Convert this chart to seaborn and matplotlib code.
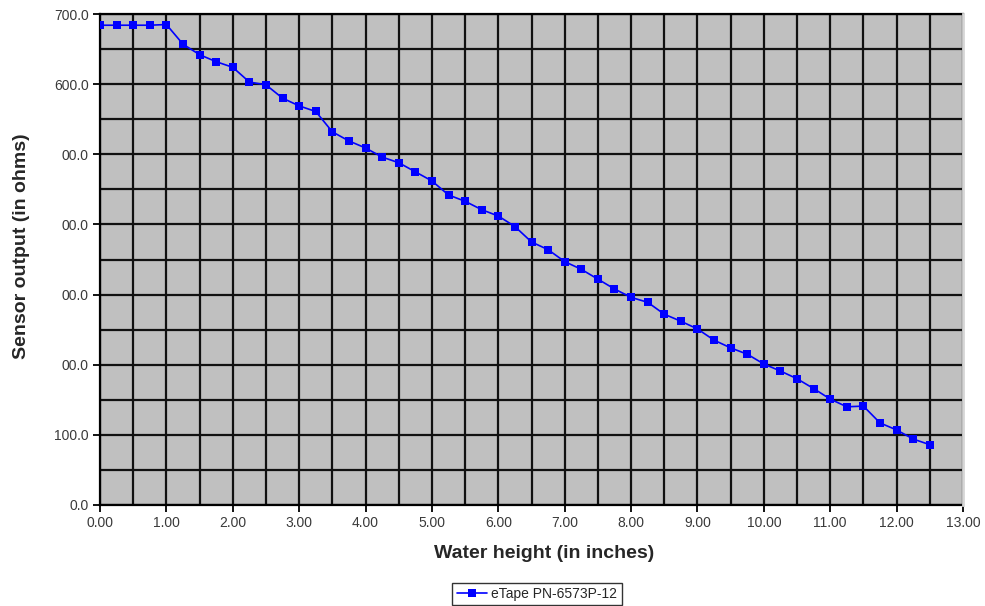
import pandas as pd
import matplotlib
matplotlib.use('Agg')
import matplotlib.pyplot as plt
from matplotlib.ticker import MultipleLocator, FixedLocator, FixedFormatter
import seaborn as sns

# water height in inches, every quarter inch
height = [0.00, 0.25, 0.50, 0.75, 1.00, 1.25, 1.50, 1.75, 2.00, 2.25, 2.50, 2.75,
          3.00, 3.25, 3.50, 3.75, 4.00, 4.25, 4.50, 4.75, 5.00, 5.25, 5.50, 5.75,
          6.00, 6.25, 6.50, 6.75, 7.00, 7.25, 7.50, 7.75, 8.00, 8.25, 8.50, 8.75,
          9.00, 9.25, 9.50, 9.75, 10.00, 10.25, 10.50, 10.75, 11.00, 11.25, 11.50,
          11.75, 12.00, 12.25, 12.50]
# sensor output in ohms
ohms = [684, 684, 684, 684, 685, 657, 642, 632, 624, 603, 599, 580,
        569, 561, 532, 519, 509, 496, 488, 475, 462, 442, 433, 421,
        412, 397, 375, 364, 347, 336, 322, 308, 296, 289, 272, 262,
        251, 235, 224, 215, 201, 191, 180, 166, 151, 140, 141,
        117, 107, 94, 86]

x_ticks = [0, 1, 2, 3, 4, 5, 6, 7, 8, 9, 10, 11, 12, 13]
x_labels = ['0.00', '1.00', '2.00', '3.00', '4.00', '5.00', '6.00', '7.00',
            '8.00', '9.00', '10.00', '11.00', '12.00', '13.00']
y_ticks = [0, 100, 200, 300, 400, 500, 600, 700]
y_labels = ['0.0', '100.0', '00.0', '00.0', '00.0', '00.0', '600.0', '700.0']

df = pd.DataFrame({'height': height, 'ohms': ohms, 'series': 'eTape PN-6573P-12'})

sns.set_style('white')
plt.rcParams['font.family'] = ['Liberation Sans', 'DejaVu Sans']

fig = plt.figure(figsize=(9.85, 6.06), dpi=100)
ax = fig.add_axes([100 / 985, 1 - 505 / 606, 863 / 985, 491 / 606])
ax.set_facecolor('#c0c0c0')

sns.lineplot(x='height', y='ohms', data=df, hue='series', palette=['#0000ff'],
             marker='s', markersize=5.5, markeredgewidth=0, linewidth=1.2,
             ax=ax, zorder=4)

ax.set_xlim(0, 13)
ax.set_ylim(0, 700)
ax.xaxis.set_major_locator(FixedLocator(x_ticks))
ax.xaxis.set_major_formatter(FixedFormatter(x_labels))
ax.xaxis.set_minor_locator(MultipleLocator(0.5))
ax.yaxis.set_major_locator(FixedLocator(y_ticks))
ax.yaxis.set_major_formatter(FixedFormatter(y_labels))
ax.yaxis.set_minor_locator(MultipleLocator(50))
ax.grid(True, which='both', color='#111111', linewidth=1.6)
ax.set_axisbelow(True)

ax.tick_params(axis='both', which='major', direction='out', length=5, width=1.3,
               color='black', labelsize=10, labelcolor='#3a3a3a', pad=3)
ax.tick_params(axis='both', which='minor', length=0)
ax.tick_params(axis='x', bottom=True)
ax.tick_params(axis='y', left=True)

for side in ['left', 'bottom', 'top']:
    ax.spines[side].set_color('black')
    ax.spines[side].set_linewidth(1.6)
ax.spines['right'].set_color('#d6d6d6')
ax.spines['right'].set_linewidth(2)
ax.spines['right'].set_zorder(5)

ax.set_xlabel('Water height (in inches)', fontsize=14, fontweight='bold')
ax.set_ylabel('Sensor output (in ohms)', fontsize=14, fontweight='bold')
ax.xaxis.set_label_coords(0.515, -0.082)
ax.yaxis.set_label_coords(-0.081, 0.527)

ax.get_legend().remove()
handles, labels = ax.get_legend_handles_labels()
leg = fig.legend(handles, labels, loc='center', bbox_to_anchor=(537 / 985, 1 - 594 / 606),
                 fontsize=10, frameon=True, fancybox=False, edgecolor='black',
                 borderpad=0.3, handlelength=2.2, handletextpad=0.3, borderaxespad=0)
leg.get_frame().set_linewidth(1.0)

plt.savefig('out.png', dpi=100)
